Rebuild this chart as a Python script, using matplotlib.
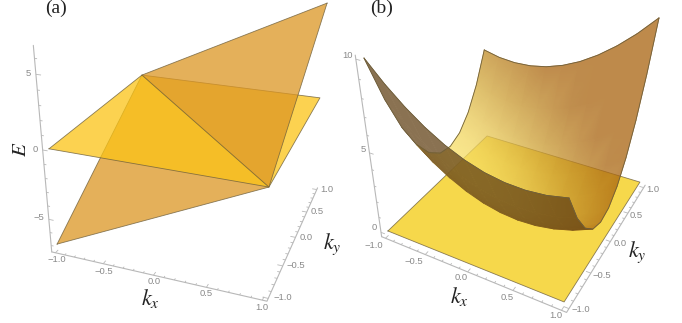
import numpy as np
import matplotlib
matplotlib.use('Agg')
import matplotlib.pyplot as plt
from matplotlib.collections import LineCollection, PolyCollection
from matplotlib.colors import LinearSegmentedColormap

plt.rcParams['font.family'] = ['Liberation Sans', 'DejaVu Sans']
plt.rcParams['mathtext.fontset'] = 'stix'

# panel (a): two planes, corner energies
a_kx = [-1.0, 1.0]
a_ky = [-1.0, 1.0]
a_flat = [[0.0, 0.0], [0.0, 0.0]]          # rows: ky, columns: kx
a_tilt = [[-7.0, 0.0], [0.0, 7.0]]

# panel (b): flat sheet and curved band, read on a 0.2 grid
b_kx = [-1.0, -0.8, -0.6, -0.4, -0.2, 0.0, 0.2, 0.4, 0.6, 0.8, 1.0]
b_ky = [-1.0, -0.8, -0.6, -0.4, -0.2, 0.0, 0.2, 0.4, 0.6, 0.8, 1.0]
b_flat = [[0.0, 0.0], [0.0, 0.0]]
b_band = [
    [10.0, 8.95, 8.05, 7.29, 6.67, 6.20, 5.87, 5.69, 5.65, 5.75, 6.00],
    [7.37, 6.40, 5.58, 4.90, 4.36, 3.97, 3.72, 3.62, 3.66, 3.84, 4.17],
    [5.23, 4.34, 3.60, 3.00, 2.54, 2.23, 2.06, 2.04, 2.16, 2.42, 2.83],
    [3.59, 2.78, 2.12, 1.60, 1.22, 0.99, 0.90, 0.96, 1.16, 1.50, 1.99],
    [2.45, 1.72, 1.14, 0.70, 0.40, 0.25, 0.24, 0.38, 0.66, 1.08, 1.65],
    [1.80, 1.15, 0.65, 0.29, 0.07, 0.00, 0.07, 0.29, 0.65, 1.15, 1.80],
    [1.65, 1.08, 0.66, 0.38, 0.24, 0.25, 0.40, 0.70, 1.14, 1.72, 2.45],
    [1.99, 1.50, 1.16, 0.96, 0.90, 0.99, 1.22, 1.60, 2.12, 2.78, 3.59],
    [2.83, 2.42, 2.16, 2.04, 2.06, 2.23, 2.54, 3.00, 3.60, 4.34, 5.23],
    [4.17, 3.84, 3.66, 3.62, 3.72, 3.97, 4.36, 4.90, 5.58, 6.40, 7.37],
    [6.00, 5.75, 5.65, 5.69, 5.87, 6.20, 6.67, 7.29, 8.05, 8.95, 10.0],
]

k_ticks = [-1.0, -0.5, 0.0, 0.5, 1.0]
k_labels = ['\u22121.0', '\u22120.5', '0.0', '0.5', '1.0']
a_e_ticks = [-5, 0, 5]
a_e_labels = ['\u22125', '0', '5']
b_e_ticks = [0, 5, 10]
b_e_labels = ['0', '5', '10']

# camera calibration: (kx, ky, E) -> figure pixel
a_world = [(-1, -1, 0), (1, -1, 0), (1, 1, 0), (-1, 1, 0), (-1, -1, -7), (1, 1, 7)]
a_pix = [(49, 149), (269, 187), (320, 98), (142, 75), (57, 244), (327, 3)]
b_world = [(-1, -1, 0), (1, -1, 0), (1, 1, 0), (-1, 1, 0), (-1, -1, 10), (1, 1, 10)]
b_pix = [(388, 231), (564, 302), (640, 182), (487, 136), (364, 58), (659, 18)]

AXIS_COL = '#b8b8b8'
TICK_COL = '#8a8a8a'
EDGE_COL = '#6e5f3c'
INK = '#222222'


def fit_camera(world, pix):
    A, r = [], []
    for (x, y, z), (u, v) in zip(world, pix):
        A.append([x, y, z, 1, 0, 0, 0, 0, -u*x, -u*y, -u*z])
        A.append([0, 0, 0, 0, x, y, z, 1, -v*x, -v*y, -v*z])
        r += [u, v]
    p = np.linalg.lstsq(np.array(A, float), np.array(r, float), rcond=None)[0]
    return np.append(p, 1.0).reshape(3, 4)


def project(P, x, y, z):
    x, y, z = np.asarray(x, float), np.asarray(y, float), np.asarray(z, float)
    w = P[2, 0]*x + P[2, 1]*y + P[2, 2]*z + P[2, 3]
    u = (P[0, 0]*x + P[0, 1]*y + P[0, 2]*z + P[0, 3]) / w
    v = (P[1, 0]*x + P[1, 1]*y + P[1, 2]*z + P[1, 3]) / w
    return u, v, w


def line3d(ax, P, pts, **kw):
    pts = np.array(pts, float)
    u, v, _ = project(P, pts[:, 0], pts[:, 1], pts[:, 2])
    ax.plot(u, v, solid_capstyle='round', **kw)


def poly3d(ax, P, pts, fc, alpha, z):
    pts = np.array(pts, float)
    u, v, _ = project(P, pts[:, 0], pts[:, 1], pts[:, 2])
    ax.fill(u, v, fc=fc, ec='none', alpha=alpha, zorder=z)
    ax.plot(np.append(u, u[0]), np.append(v, v[0]), color=EDGE_COL, lw=0.6, alpha=0.8, zorder=z)


def draw_box(ax, P, lo, e_lo, e_hi, e_ticks, e_minor, e_labels, xlab_pix, ylab_pix, elab_pix):
    hi = -lo
    line3d(ax, P, [(lo, lo, e_lo), (hi, lo, e_lo), (hi, hi, e_lo)], color=AXIS_COL, lw=0.8)
    line3d(ax, P, [(lo, lo, e_lo), (lo, lo, e_hi)], color=AXIS_COL, lw=0.8)
    segs = []
    minor = np.arange(-10, 11) / 10.0
    for t in minor:
        d = 0.05 if abs(t*2 - round(t*2)) < 1e-6 else 0.025
        for a, b in [((t, lo), (t, lo + d)), ((hi, t), (hi - d, t))]:
            u, v, _ = project(P, [a[0], b[0]], [a[1], b[1]], [e_lo, e_lo])
            segs.append(list(zip(u, v)))
    for t in e_minor:
        d = 0.05 if t in e_ticks else 0.025
        u, v, _ = project(P, [lo, lo + d], [lo, lo], [t, t])
        segs.append(list(zip(u, v)))
    ax.add_collection(LineCollection(segs, colors=AXIS_COL, linewidths=0.6))
    for txt, (u, v) in zip(k_labels, xlab_pix):
        ax.text(u, v, txt, fontsize=6.8, color=TICK_COL, ha='center', va='center')
    for txt, (u, v) in zip(k_labels, ylab_pix):
        ax.text(u, v, txt, fontsize=6.8, color=TICK_COL, ha='center', va='center')
    for txt, (u, v) in zip(e_labels, elab_pix):
        ax.text(u, v, txt, fontsize=6.8, color=TICK_COL, ha='center', va='center')


def layer_alpha(alpha):
    # the cells are drawn opaque on one layer, then the whole layer is faded, so no seams show
    def post(img, dpi):
        out = img.copy()
        out[..., 3] = out[..., 3]*alpha
        return out, 0, 0
    return post


fig = plt.figure(figsize=(6.82, 3.23), dpi=100)
ax = fig.add_axes([0, 0, 1, 1])
ax.set_xlim(0, 682)
ax.set_ylim(323, 0)
ax.axis('off')

# ---------- panel (a)
Pa = fit_camera(a_world, a_pix)
draw_box(ax, Pa, -1.04, -7.5, 6.8, a_e_ticks, list(range(-7, 7)), a_e_labels,
         [(57, 260), (104, 271), (154, 282), (206, 294), (262, 307)],
         [(283, 297), (296, 265), (306, 237), (317, 211), (327, 189)],
         [(39, 218), (35, 149), (28, 73)])

x0, x1 = a_kx
y0, y1 = a_ky
ORANGE = (220/255, 150/255, 35/255)
YELLOW = (251/255, 196/255, 22/255)
poly3d(ax, Pa, [(x0, y0, a_tilt[0][0]), (x1, y0, a_tilt[0][1]), (x0, y1, a_tilt[1][0])], ORANGE, 0.75, 2)
poly3d(ax, Pa, [(x0, y0, a_flat[0][0]), (x1, y0, a_flat[0][1]), (x1, y1, a_flat[1][1]), (x0, y1, a_flat[1][0])], YELLOW, 0.75, 3)
poly3d(ax, Pa, [(x1, y1, a_tilt[1][1]), (x1, y0, a_tilt[0][1]), (x0, y1, a_tilt[1][0])], ORANGE, 0.75, 4)

ax.text(56, 8, '(a)', fontsize=14, family='Liberation Serif', ha='center', va='center', color=INK)
ax.text(150, 299, '$k_x$', fontsize=16, ha='center', va='center', color=INK)
ax.text(332, 244, '$k_y$', fontsize=16, ha='center', va='center', color=INK)
ax.text(20, 149, '$E$', fontsize=15, rotation=90, ha='center', va='center', color=INK)

# ---------- panel (b)
Pb = fit_camera(b_world, b_pix)
draw_box(ax, Pb, -1.05, -0.3, 10.2, b_e_ticks, list(range(0, 11)), b_e_labels,
         [(374, 245), (414, 261), (461, 278), (507, 297), (556, 316)],
         [(581, 309), (602, 275), (620, 243), (636, 215), (653, 189)],
         [(374, 228), (363, 149), (348, 55)])

poly3d(ax, Pb, [(-1, -1, b_flat[0][0]), (1, -1, b_flat[0][1]), (1, 1, b_flat[1][1]), (-1, 1, b_flat[1][0])],
       (245/255, 208/255, 35/255), 0.82, 2)

KX, KY = np.meshgrid(b_kx, b_ky)
EE = np.array(b_band)
wall_cmap = LinearSegmentedColormap.from_list('wall', ['#f8e066', '#ca9b30', '#a8630f'])
DARK = (0.38, 0.25, 0.08)

U, V, W = project(Pb, KX, KY, EE)
shade = np.clip(0.147*EE + 0.45*(KX + 1) - 0.235, 0, 1)
nrow, ncol = EE.shape
front_tris, back_cells = [], []
for j in range(nrow - 1):
    for i in range(ncol - 1):
        idx = [(j, i), (j, i + 1), (j + 1, i + 1), (j + 1, i)]
        quad = np.array([(U[q], V[q]) for q in idx])
        qx, qy = quad[:, 0], quad[:, 1]
        area = 0.5*np.sum(qx*np.roll(qy, -1) - np.roll(qx, -1)*qy)
        if area < 0:
            n = [a*ncol + b for a, b in idx]
            front_tris += [[n[0], n[1], n[2]], [n[0], n[2], n[3]]]
        else:
            back_cells.append(quad)

front = ax.tripcolor(U.ravel(), V.ravel(), np.array(front_tris), shade.ravel(), cmap=wall_cmap,
                     vmin=0, vmax=1, shading='gouraud', zorder=3)
front.set_agg_filter(layer_alpha(0.75))
back = PolyCollection(back_cells, facecolors=[DARK], edgecolors=[DARK], linewidths=0.6, zorder=4)
back.set_agg_filter(layer_alpha(0.86))
ax.add_collection(back)

ax.plot(U[0, :], V[0, :], color=EDGE_COL, lw=0.6, zorder=5)
ax.plot(U[-1, :], V[-1, :], color=EDGE_COL, lw=0.6, zorder=5)
ax.plot(U[:, 0], V[:, 0], color=EDGE_COL, lw=0.6, zorder=5)
ax.plot(U[:, -1], V[:, -1], color=EDGE_COL, lw=0.6, zorder=5)

ax.text(382, 8, '(b)', fontsize=14, family='Liberation Serif', ha='center', va='center', color=INK)
ax.text(459, 296, '$k_x$', fontsize=16, ha='center', va='center', color=INK)
ax.text(637, 252, '$k_y$', fontsize=16, ha='center', va='center', color=INK)

ax.set_xlim(0, 682)
ax.set_ylim(323, 0)
fig.savefig('out.png', dpi=100)
